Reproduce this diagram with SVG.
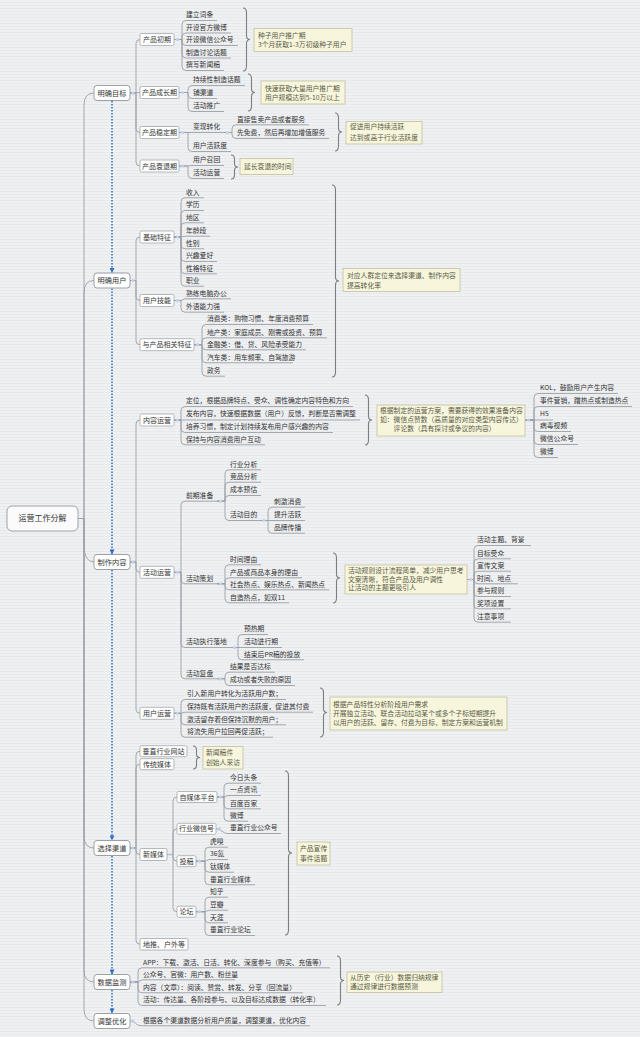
<svg xmlns="http://www.w3.org/2000/svg" width="640" height="1037" viewBox="0 0 640 1037">
<defs>
<pattern id="bgp" width="4" height="3" patternUnits="userSpaceOnUse"><rect width="4" height="3" fill="#eff0f2"/><rect y="2" width="4" height="1" fill="#e7e9ec"/></pattern>
<marker id="ah" viewBox="0 0 6 6" refX="5.5" refY="3" markerWidth="5" markerHeight="5" markerUnits="userSpaceOnUse" orient="auto"><path d="M0 0L6 3L0 6z" fill="#2f6fc6"/></marker>
<style>
.c{fill:none;stroke:#9a9fa5;stroke-width:0.9}
.mn{fill:#fff;stroke:#9ba0a6;stroke-width:1}
.bx{fill:#fff;stroke:#a2a7ac;stroke-width:0.8}
.t{font-family:"Noto Sans CJK SC","Noto Sans",sans-serif;font-size:6.8px;fill:#333}
.tb{font-size:7px;text-anchor:middle}
.tm{font-size:7.2px;text-anchor:middle}
.co{fill:#f7f6dd;stroke:#c3c0a0;stroke-width:0.8}
.nt{font-family:"Noto Sans CJK SC","Noto Sans",sans-serif;font-size:6.8px;fill:#5a5a46}
.br{fill:none;stroke:#7b7e82;stroke-width:1.1}
.dt{fill:#bfcfea}
.ar{fill:none;stroke:#2f6fc6;stroke-width:1.5;stroke-dasharray:1.5 1.5}
</style>
</defs>
<rect width="640" height="1037" fill="url(#bgp)"/>

<g id="connectors">
<path class="c" d="M78 518.5H84V105Q84 93 94 93M78 518.5H84V292.5Q84 280.5 94 280.5M78 518.5H84V545Q84 562 94 562M78 518.5H84V836Q84 848 94 848M78 518.5H84V970Q84 982 94 982M78 518.5H84V1009Q84 1021 94 1021"/>
<path class="c" d="M130 93H136V43.5Q136 39.5 140 39.5M130 93L140 92.5M130 93H136V128.5Q136 132.5 140 132.5M130 93H136V162Q136 166 140 166"/>
<path class="c" d="M174 39.5H182V24.5Q182 20.5 186 20.5H217M174 39.5H182V37Q182 33 186 33H231M174 39.5H182V41.5Q182 45.5 186 45.5H238M174 39.5H182V54Q182 58 186 58H231M174 39.5H182V66.5Q182 70.5 186 70.5H224"/>
<path class="c" d="M179 92.5H188V89.5Q188 85.5 192 85.5H245M179 92.5H188V94.5Q188 98.5 192 98.5H217M179 92.5H188V107.5Q188 111.5 192 111.5H224"/>
<path class="c" d="M179 132.5H224M179 132.5H188V147.5Q188 151.5 192 151.5H231"/>
<path class="c" d="M224 132.5H232V128.8Q232 124.8 236 124.8H309M224 132.5H232V134.5Q232 138.5 236 138.5H329"/>
<path class="c" d="M179 166H188L192 165.5H224M179 166H188V174.5Q188 178.5 192 178.5H224"/>
<path class="c" d="M130 280.5H136V241Q136 237 140 237M130 280.5H136V296.5Q136 300.5 140 300.5M130 280.5H136V340.7Q136 344.7 140 344.7"/>
<path class="c" d="M174 237H181V201.8Q181 197.8 185 197.8H204M174 237H181V214.5Q181 210.5 185 210.5H204M174 237H181V226.8Q181 222.8 185 222.8H204M174 237H181L185 236.2H210M174 237H181V244.8Q181 248.8 185 248.8H204M174 237H181V257.5Q181 261.5 185 261.5H217M174 237H181V269.8Q181 273.8 185 273.8H217M174 237H181V282.2Q181 286.2 185 286.2H204"/>
<path class="c" d="M174 300.5H181L185 298.8H231M174 300.5H181V308.2Q181 312.2 185 312.2H224"/>
<path class="c" d="M194 344.7H202V328.5Q202 324.5 206 324.5H313M194 344.7H202V341.8Q202 337.8 206 337.8H327M194 344.7H202V345.8Q202 349.8 206 349.8H306M194 344.7H202V358.8Q202 362.8 206 362.8H293M194 344.7H202V372.2Q202 376.2 206 376.2H225"/>
<path class="c" d="M130 562H136V424Q136 420 140 420M130 562H136V568.3Q136 572.3 140 572.3M130 562H136V709.3Q136 713.3 140 713.3"/>
<path class="c" d="M174 420H181V410.5Q181 406.5 185 406.5H353M174 420H360M174 420H181V428.5Q181 432.5 185 432.5H333M174 420H181V440.8Q181 444.8 185 444.8H265"/>
<path class="c" d="M525 420H534V397.5Q534 393.5 538 393.5H618M525 420H534V410.5Q534 406.5 538 406.5H632M525 420H553M525 420H534V427.5Q534 431.5 538 431.5H571M525 420H534V440.5Q534 444.5 538 444.5H578M525 420H534V453.5Q534 457.5 538 457.5H558"/>
<path class="c" d="M174 572.3H181V505.2Q181 501.2 185 501.2H217M174 572.3H181V579.8Q181 583.8 185 583.8H217M174 572.3H181V643.5Q181 647.5 185 647.5H231M174 572.3H181V674.8Q181 678.8 185 678.8H217"/>
<path class="c" d="M217 501.2H225V473.8Q225 469.8 229 469.8H261M217 501.2H225V486.2Q225 482.2 229 482.2H261M217 501.2H225V499.5Q225 495.5 229 495.5H261M217 501.2H225V516.5Q225 520.5 229 520.5H261"/>
<path class="c" d="M261 520.5H268V511.2Q268 507.2 272 507.2H305M261 520.5H305M261 520.5H268V529.2Q268 533.2 272 533.2H305"/>
<path class="c" d="M217 583.8H225V568.8Q225 564.8 229 564.8H261M217 583.8H225V581.8Q225 577.8 229 577.8H302M217 583.8H225V585.8Q225 589.8 229 589.8H329M217 583.8H225V598.8Q225 602.8 229 602.8H289"/>
<path class="c" d="M467 579.5H474V549.5Q474 545.5 478 545.5H531M467 579.5H474V562.8Q474 558.8 478 558.8H511M467 579.5H474V575.2Q474 571.2 478 571.2H511M467 579.5H474V579.8Q474 583.8 478 583.8H518M467 579.5H474V592.5Q474 596.5 478 596.5H511M467 579.5H474V604.8Q474 608.8 478 608.8H511M467 579.5H474V618.2Q474 622.2 478 622.2H511"/>
<path class="c" d="M231 647.5H238V638.5Q238 634.5 242 634.5H268M231 647.5H282M231 647.5H238V655.8Q238 659.8 242 659.8H304"/>
<path class="c" d="M217 678.8H225V676.2Q225 672.2 229 672.2H275M217 678.8H225V681.5Q225 685.5 229 685.5H295"/>
<path class="c" d="M174 713.3H181V703.5Q181 699.5 185 699.5H286M174 713.3H181L185 712.2H313M174 713.3H181V720.8Q181 724.8 185 724.8H286M174 713.3H181V733.2Q181 737.2 185 737.2H273"/>
<path class="c" d="M130 848H136V755.2Q136 751.2 140 751.2M130 848H136V768.2Q136 764.2 140 764.2M130 848H136V850.5Q136 854.5 140 854.5M130 848H136V940.2Q136 944.2 140 944.2"/>
<path class="c" d="M167 854.5H173V801Q173 797 177 797M167 854.5H173V832.8Q173 828.8 177 828.8M167 854.5H173V857.2Q173 861.2 177 861.2M167 854.5H173V907.7Q173 911.7 177 911.7"/>
<path class="c" d="M217 797H224V787.2Q224 783.2 228 783.2H261M217 797H224L228 795.5H261M217 797H224V804.8Q224 808.8 228 808.8H261M217 797H224V817.2Q224 821.2 228 821.2H248"/>
<path class="c" d="M216 828.8C222 828.8 222 833.5 228 833.5H281"/>
<path class="c" d="M196 861.2H205V851.2Q205 847.2 209 847.2H228M196 861.2H205L209 859.5H228M196 861.2H205V868.2Q205 872.2 209 872.2H234M196 861.2H205V880.8Q205 884.8 209 884.8H255"/>
<path class="c" d="M196 911.7H205V901.2Q205 897.2 209 897.2H228M196 911.7H205L209 910.2H228M196 911.7H205V918.8Q205 922.8 209 922.8H228M196 911.7H205V931.5Q205 935.5 209 935.5H255"/>
<path class="c" d="M130 982H138V971.8Q138 967.8 142 967.8H330M130 982H138L142 979.8H235M130 982H138V988.8Q138 992.8 142 992.8H303M130 982H138V1001.5Q138 1005.5 142 1005.5H326"/>
<path class="c" d="M130 1021C135 1021 136 1025.8 142 1025.8H310"/>
<g class="dt">
<circle cx="133" cy="93" r="1.6"/><circle cx="133" cy="280.5" r="1.6"/><circle cx="133" cy="562" r="1.6"/><circle cx="133" cy="848" r="1.6"/><circle cx="133" cy="982" r="1.6"/><circle cx="133" cy="1021" r="1.6"/>
<circle cx="177.5" cy="39.5" r="1.6"/><circle cx="182.5" cy="92.5" r="1.6"/><circle cx="182.5" cy="132.5" r="1.6"/><circle cx="182.5" cy="166" r="1.6"/><circle cx="227.5" cy="132.5" r="1.6"/>
<circle cx="177.5" cy="237" r="1.6"/><circle cx="177.5" cy="300.5" r="1.6"/><circle cx="197.5" cy="344.7" r="1.6"/>
<circle cx="177.5" cy="420" r="1.6"/><circle cx="528.5" cy="420" r="1.6"/><circle cx="177.5" cy="572.3" r="1.6"/><circle cx="220.5" cy="501.2" r="1.6"/><circle cx="264" cy="520.5" r="1.6"/><circle cx="220.5" cy="583.8" r="1.6"/><circle cx="470.5" cy="579.5" r="1.6"/><circle cx="234.5" cy="647.5" r="1.6"/><circle cx="220.5" cy="678.8" r="1.6"/><circle cx="177.5" cy="713.3" r="1.6"/>
<circle cx="170" cy="854.5" r="1.6"/><circle cx="220.5" cy="797" r="1.6"/><circle cx="219.5" cy="828.8" r="1.6"/><circle cx="199.5" cy="861.2" r="1.6"/><circle cx="199.5" cy="911.7" r="1.6"/>
</g>
<g class="br">
<path d="M243 8Q246.5 8 246.5 13V35.5Q246.5 39.5 250 39.5Q246.5 39.5 246.5 43.5V66Q246.5 71 243 71"/>
<path d="M248 74Q251.5 74 251.5 79V88.5Q251.5 92.5 255 92.5Q251.5 92.5 251.5 96.5V106Q251.5 111 248 111"/>
<path d="M335 113Q338.5 113 338.5 118V128Q338.5 132 342 132Q338.5 132 338.5 136V146Q338.5 151 335 151"/>
<path d="M231 155Q234.5 155 234.5 159V163.5Q234.5 167 238 167Q234.5 167 234.5 170.5V175Q234.5 179 231 179"/>
<path d="M332 185Q335.5 185 335.5 190V277Q335.5 281 339 281Q335.5 281 335.5 285V372Q335.5 377 332 377"/>
<path d="M365 395Q368.5 395 368.5 400V416Q368.5 420 372 420Q368.5 420 368.5 424V440Q368.5 445 365 445"/>
<path d="M333 553Q336.5 553 336.5 558V574Q336.5 578 340 578Q336.5 578 336.5 582V598Q336.5 603 333 603"/>
<path d="M320 688Q323.5 688 323.5 693V708.5Q323.5 712.5 327 712.5Q323.5 712.5 323.5 716.5V732Q323.5 737 320 737"/>
<path d="M193 746Q196.5 746 196.5 750V754.5Q196.5 757.5 200 757.5Q196.5 757.5 196.5 760.5V765Q196.5 769 193 769"/>
<path d="M285 771Q288.5 771 288.5 776V849Q288.5 853 292 853Q288.5 853 288.5 857V930Q288.5 935 285 935"/>
<path d="M337 956Q340.5 956 340.5 961V976.5Q340.5 980.5 344 980.5Q340.5 980.5 340.5 984.5V1000Q340.5 1005 337 1005"/>
</g>
<path class="ar" marker-end="url(#ah)" d="M112 101V272.5"/>
<path class="ar" marker-end="url(#ah)" d="M112 288.5V554"/>
<path class="ar" marker-end="url(#ah)" d="M112 570V840"/>
<path class="ar" marker-end="url(#ah)" d="M112 856V974"/>
<path class="ar" marker-end="url(#ah)" d="M112 990V1013"/>
</g>

<g id="root"><rect x="7" y="506" width="71" height="25" rx="5" fill="#fbfbfc" stroke="#9ea3a8" stroke-width="1"/><text class="t" x="42.5" y="521.3" text-anchor="middle" style="font-size:8px">运营工作分解</text></g>

<g id="m1"><rect class="mn" x="94" y="85.5" width="36" height="15" rx="3"/><text class="t tm" x="112" y="95.6">明确目标</text></g>
<g id="m2"><rect class="mn" x="94" y="273" width="36" height="15" rx="3"/><text class="t tm" x="112" y="283.1">明确用户</text></g>
<g id="m3"><rect class="mn" x="94" y="554.5" width="36" height="15" rx="3"/><text class="t tm" x="112" y="564.6">制作内容</text></g>
<g id="m4"><rect class="mn" x="94" y="840.5" width="36" height="15" rx="3"/><text class="t tm" x="112" y="850.6">选择渠道</text></g>
<g id="m5"><rect class="mn" x="94" y="974.5" width="36" height="15" rx="3"/><text class="t tm" x="112" y="984.6">数据监测</text></g>
<g id="m6"><rect class="mn" x="94" y="1013.5" width="36" height="15" rx="3"/><text class="t tm" x="112" y="1023.6">调整优化</text></g>

<g id="s-chuqi"><rect class="bx" x="140" y="33.5" width="34" height="12" rx="1.5"/><text class="t tb" x="157" y="42">产品初期</text></g>
<g id="s-chengzhang"><rect class="bx" x="140" y="86.5" width="39" height="12" rx="1.5"/><text class="t tb" x="159.5" y="95">产品成长期</text></g>
<g id="s-wending"><rect class="bx" x="140" y="126.5" width="39" height="12" rx="1.5"/><text class="t tb" x="159.5" y="135">产品稳定期</text></g>
<g id="s-shuaitui"><rect class="bx" x="140" y="160" width="39" height="12" rx="1.5"/><text class="t tb" x="159.5" y="168.5">产品衰退期</text></g>
<g id="s-jichu"><rect class="bx" x="140" y="231" width="34" height="12" rx="1.5"/><text class="t tb" x="157" y="239.5">基础特征</text></g>
<g id="s-jineng"><rect class="bx" x="140" y="294.5" width="34" height="12" rx="1.5"/><text class="t tb" x="157" y="303">用户技能</text></g>
<g id="s-xiangguan"><rect class="bx" x="140" y="338.7" width="54" height="12" rx="1.5"/><text class="t tb" x="167" y="347.2">与产品相关特征</text></g>
<g id="s-neirong"><rect class="bx" x="140" y="414" width="34" height="12" rx="1.5"/><text class="t tb" x="157" y="422.5">内容运营</text></g>
<g id="s-huodong"><rect class="bx" x="140" y="566.3" width="34" height="12" rx="1.5"/><text class="t tb" x="157" y="574.8">活动运营</text></g>
<g id="s-yonghu"><rect class="bx" x="140" y="707.3" width="34" height="12" rx="1.5"/><text class="t tb" x="157" y="715.8">用户运营</text></g>
<g id="s-chuizhi"><rect class="bx" x="140" y="745.7" width="47" height="11" rx="1.5"/><text class="t tb" x="163.5" y="753.7">垂直行业网站</text></g>
<g id="s-chuantong"><rect class="bx" x="140" y="758.7" width="34" height="11" rx="1.5"/><text class="t tb" x="157" y="766.7">传统媒体</text></g>
<g id="s-xinmeiti"><rect class="bx" x="140" y="848.5" width="27" height="12" rx="1.5"/><text class="t tb" x="153.5" y="857">新媒体</text></g>
<g id="s-ditui"><rect class="bx" x="140" y="938.5" width="48" height="11.5" rx="1.5"/><text class="t tb" x="164" y="946.8">地推、户外等</text></g>
<g id="s-zimeiti"><rect class="bx" x="177" y="791.5" width="40" height="11" rx="1.5"/><text class="t tb" x="197" y="799.5">自媒体平台</text></g>
<g id="s-weixinhao"><rect class="bx" x="177" y="823.3" width="39" height="11" rx="1.5"/><text class="t tb" x="196.5" y="831.3">行业微信号</text></g>
<g id="s-tougao"><rect class="bx" x="177" y="855.7" width="19" height="11" rx="1.5"/><text class="t tb" x="186.5" y="863.7">投稿</text></g>
<g id="s-luntan"><rect class="bx" x="177" y="906.2" width="19" height="11" rx="1.5"/><text class="t tb" x="186.5" y="914.2">论坛</text></g>

<g id="leaves-chuqi" class="t"><text x="186" y="17.4">建立词条</text><text x="186" y="29.9">开设官方微博</text><text x="186" y="42.4">开设微信公众号</text><text x="186" y="54.9">制造讨论话题</text><text x="186" y="67.4">撰写新闻稿</text></g>
<g id="leaves-chengzhang" class="t"><text x="193" y="82.4">持续性制造话题</text><text x="193" y="95.4">铺渠道</text><text x="193" y="108.4">活动推广</text></g>
<g id="leaves-wending" class="t"><text x="193" y="129.4">变现转化</text><text x="193" y="148.4">用户活跃度</text><text x="237" y="121.7">直接售卖产品或者服务</text><text x="237" y="135.4">先免费，然后再增加增值服务</text></g>
<g id="leaves-shuaitui" class="t"><text x="193" y="162.4">用户召回</text><text x="193" y="175.4">活动运营</text></g>
<g id="leaves-jichu" class="t"><text x="186" y="194.7">收入</text><text x="186" y="207.4">学历</text><text x="186" y="219.7">地区</text><text x="186" y="233.1">年龄段</text><text x="186" y="245.7">性别</text><text x="186" y="258.4">兴趣爱好</text><text x="186" y="270.7">性格特征</text><text x="186" y="283.1">职业</text></g>
<g id="leaves-jineng" class="t"><text x="186" y="295.7">熟练电脑办公</text><text x="186" y="309.1">外语能力强</text></g>
<g id="leaves-xiangguan" class="t"><text x="207" y="321.4">消费类：购物习惯、年度消费预算</text><text x="207" y="334.7">地产类：家庭成员、刚需或投资、预算</text><text x="207" y="346.7">金融类：借、贷、风险承受能力</text><text x="207" y="359.7">汽车类：用车频率、自驾旅游</text><text x="207" y="373.1">政务</text></g>
<g id="leaves-neirong" class="t"><text x="186" y="403.4">定位，根据品牌特点、受众、调性确定内容特色和方向</text><text x="186" y="416.4">发布内容，快速根据数据（用户）反馈，判断是否需调整</text><text x="186" y="429.4">培养习惯，制定计划持续发布用户感兴趣的内容</text><text x="186" y="441.7">保持与内容消费用户互动</text></g>
<g id="leaves-neirong2" class="t"><text x="540" y="390.4">KOL，鼓励用户产生内容</text><text x="540" y="403.4">事件营销，蹭热点或制造热点</text><text x="540" y="416.4">H5</text><text x="540" y="428.4">病毒视频</text><text x="540" y="441.4">微信公众号</text><text x="540" y="454.4">微博</text></g>
<g id="leaves-huodong" class="t"><text x="186" y="498.1">前期准备</text><text x="186" y="580.7">活动策划</text><text x="186" y="644.4">活动执行落地</text><text x="186" y="675.7">活动复盘</text></g>
<g id="leaves-qianqi" class="t"><text x="230" y="466.7">行业分析</text><text x="230" y="479.1">竞品分析</text><text x="230" y="492.4">成本预估</text><text x="230" y="517.4">活动目的</text><text x="274" y="504.1">刺激消费</text><text x="274" y="517.4">提升活跃</text><text x="274" y="530.1">品牌传播</text></g>
<g id="leaves-cehua" class="t"><text x="230" y="561.7">时间理由</text><text x="230" y="574.7">产品或商品本身的理由</text><text x="230" y="586.7">社会热点、娱乐热点、新闻热点</text><text x="230" y="599.7">自造热点，如双11</text></g>
<g id="leaves-cehua2" class="t"><text x="477" y="542.4">活动主题、背景</text><text x="477" y="555.7">目标受众</text><text x="477" y="568.1">宣传文案</text><text x="477" y="580.7">时间、地点</text><text x="477" y="593.4">参与规则</text><text x="477" y="605.7">奖项设置</text><text x="477" y="619.1">注意事项</text></g>
<g id="leaves-zhixing" class="t"><text x="244" y="631.4">预热期</text><text x="244" y="644.1">活动进行期</text><text x="244" y="656.7">结束后PR稿的投放</text></g>
<g id="leaves-fupan" class="t"><text x="230" y="669.1">结果是否达标</text><text x="230" y="682.4">成功或者失败的原因</text></g>
<g id="leaves-yonghu" class="t"><text x="187" y="696.4">引入新用户转化为活跃用户数；</text><text x="187" y="709.1">保持既有活跃用户的活跃度，促进其付费</text><text x="187" y="721.7">激活留存着但保持沉默的用户；</text><text x="187" y="734.1">将流失用户拉回再促活跃；</text></g>
<g id="leaves-zimeiti" class="t"><text x="230" y="780.1">今日头条</text><text x="230" y="792.4">一点资讯</text><text x="230" y="805.7">百度百家</text><text x="230" y="818.1">微博</text><text x="230" y="830.4">垂直行业公众号</text></g>
<g id="leaves-tougao" class="t"><text x="210" y="844.1">虎嗅</text><text x="210" y="856.4">36氪</text><text x="210" y="869.1">钛媒体</text><text x="210" y="881.7">垂直行业媒体</text></g>
<g id="leaves-luntan" class="t"><text x="210" y="894.1">知乎</text><text x="210" y="907.1">豆瓣</text><text x="210" y="919.7">天涯</text><text x="210" y="932.4">垂直行业论坛</text></g>
<g id="leaves-shuju" class="t"><text x="143" y="964.7">APP：下载、激活、日活、转化、深度参与（购买、充值等）</text><text x="143" y="976.7">公众号、官微：用户数、粉丝量</text><text x="143" y="989.7">内容（文章）：阅读、赞赏、转发、分享（回流量）</text><text x="143" y="1002.4">活动：传达量、各阶段参与、以及目标达成数据（转化率）</text></g>
<g id="leaves-tiaozheng" class="t"><text x="143" y="1022.7">根据各个渠道数据分析用户质量，调整渠道，优化内容</text></g>

<g id="note1"><rect class="co" x="254" y="28.5" width="98" height="23"/><text class="nt" x="258" y="38">种子用户推广期</text><text class="nt" x="258" y="47">3个月获取1-3万初级种子用户</text></g>
<g id="note2"><rect class="co" x="261" y="81" width="84" height="23"/><text class="nt" x="265" y="90.7">快速获取大量用户推广期</text><text class="nt" x="265" y="99.7">用户规模达到5-10万以上</text></g>
<g id="note3"><rect class="co" x="346" y="121.5" width="76" height="22.5"/><text class="nt" x="350" y="129.3">促进用户持续活跃</text><text class="nt" x="350" y="139.5">达到或高于行业活跃度</text></g>
<g id="note4"><rect class="co" x="240" y="158.5" width="53" height="16"/><text class="nt" x="244" y="168.8">延长衰退的时间</text></g>
<g id="note5"><rect class="co" x="343" y="268.5" width="117" height="23"/><text class="nt" x="347" y="278.4">对应人群定位来选择渠道、制作内容</text><text class="nt" x="347" y="287.6">提高转化率</text></g>
<g id="note6"><rect class="co" x="377" y="405" width="148" height="31"/><text class="nt" x="380" y="412.9">根据制定的运营方案，需要获得的效果准备内容</text><text class="nt" x="380" y="421.9">如：微信点赞数（高质量的对应类型内容传达）</text><text class="nt" x="393.6" y="430.9">评论数（具有探讨或争议的内容）</text></g>
<g id="note7"><rect class="co" x="345" y="565" width="122" height="29"/><text class="nt" x="348" y="572.9">活动规则设计流程简单，减少用户思考</text><text class="nt" x="348" y="581.7">文案清晰，符合产品及用户调性</text><text class="nt" x="348" y="590.4">让活动的主题更吸引人</text></g>
<g id="note8"><rect class="co" x="330" y="697" width="177" height="33"/><text class="nt" x="333" y="706.7">根据产品特性分析阶段用户需求</text><text class="nt" x="333" y="715.7">开展独立活动、联合活动拉动某个或多个子标短期提升</text><text class="nt" x="333" y="724.9">以用户的活跃、留存、付费为目标，制定方案和运营机制</text></g>
<g id="note9"><rect class="co" x="203" y="746.5" width="40" height="22.5"/><text class="nt" x="206" y="754.9">新闻稿件</text><text class="nt" x="206" y="764.7">创始人采访</text></g>
<g id="note10"><rect class="co" x="297" y="842" width="33" height="23"/><text class="nt" x="300" y="851.4">产品宣传</text><text class="nt" x="300" y="860.9">事件话题</text></g>
<g id="note11"><rect class="co" x="347" y="972" width="95" height="20.5"/><text class="nt" x="350" y="980.1">从历史（行业）数据归纳规律</text><text class="nt" x="350" y="988.7">通过规律进行数据预测</text></g>
</svg>
